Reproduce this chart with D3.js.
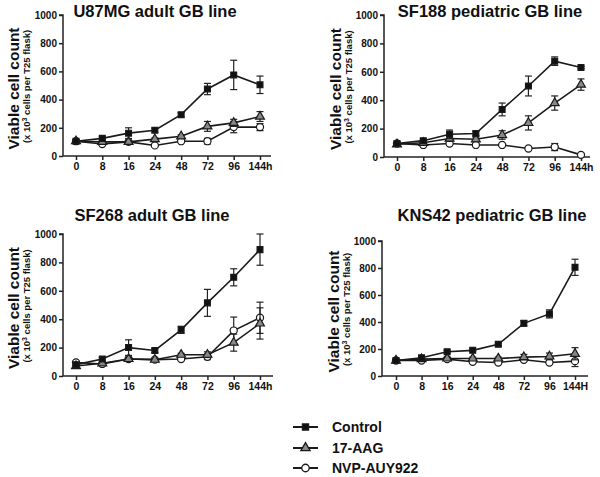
<!DOCTYPE html>
<html><head><meta charset="utf-8">
<script src="https://cdn.jsdelivr.net/npm/d3@7"></script>
<style>body{margin:0;background:#fff}svg{display:block}text{font-family:"Liberation Sans",Arial,sans-serif;font-weight:bold}</style>
</head><body>
<script>
const timeLabels = ["0","8","16","24","48","72","96","144h"];
const timeLabelsKNS = ["0","8","16","24","48","72","96","144H"];
const yTicks = [0,200,400,600,800,1000];
const seriesNames = ["Control","17-AAG","NVP-AUY922"];

// U87MG
const u87Control = [105,125,162,183,293,475,575,505];
const u87ControlErr = [5,10,38,15,15,40,104,62];
const u87AAG = [105,100,100,120,140,210,235,280];
const u87AAGErr = [5,5,5,8,10,35,25,35];
const u87NVP = [105,85,100,75,105,105,205,205];
const u87NVPErr = [5,5,5,5,5,20,40,25];
// SF188
const sf188Control = [95,115,160,165,335,500,675,630];
const sf188ControlErr = [5,10,30,15,45,70,30,8];
const sf188AAG = [90,100,130,125,155,240,380,510];
const sf188AAGErr = [5,5,20,15,30,50,50,40];
const sf188NVP = [95,85,95,85,85,60,70,15];
const sf188NVPErr = [5,5,10,5,5,5,25,5];
// SF268
const sf268Control = [80,120,200,180,325,515,695,890];
const sf268ControlErr = [5,10,55,15,25,95,60,110];
const sf268AAG = [70,90,120,115,150,150,235,370];
const sf268AAGErr = [5,5,10,5,10,20,60,110];
const sf268NVP = [95,85,120,115,120,135,320,410];
const sf268NVPErr = [5,5,10,5,10,20,95,110];
// KNS42
const knsControl = [115,135,180,190,235,390,460,805];
const knsControlErr = [5,10,10,8,10,20,30,60];
const knsAAG = [115,125,130,130,130,140,145,165];
const knsAAGErr = [5,5,10,10,10,20,25,45];
const knsNVP = [115,115,125,105,100,120,100,110];
const knsNVPErr = [5,5,5,10,10,10,10,40];

const panels = [
  {title:"U87MG adult GB line", labels:timeLabels, s:[[u87Control,u87ControlErr],[u87AAG,u87AAGErr],[u87NVP,u87NVPErr]],
   ax:63, x0:76, x1:260, xEnd:271, yTop:15, yBot:156, tx:155, ty:17, lx:13, lx2:27},
  {title:"SF188 pediatric GB line", labels:timeLabels, s:[[sf188Control,sf188ControlErr],[sf188AAG,sf188AAGErr],[sf188NVP,sf188NVPErr]],
   ax:384, x0:397, x1:581, xEnd:590, yTop:15, yBot:157, tx:490, ty:17, lx:335, lx2:349},
  {title:"SF268 adult GB line", labels:timeLabels, s:[[sf268Control,sf268ControlErr],[sf268AAG,sf268AAGErr],[sf268NVP,sf268NVPErr]],
   ax:63, x0:76, x1:260, xEnd:273, yTop:234, yBot:376, tx:152, ty:221, lx:13, lx2:27},
  {title:"KNS42 pediatric GB line", labels:timeLabelsKNS, s:[[knsControl,knsControlErr],[knsAAG,knsAAGErr],[knsNVP,knsNVPErr]],
   ax:382, x0:396, x1:575, xEnd:588, yTop:241, yBot:376, tx:492, ty:221, lx:333, lx2:347}
];

const svg = d3.select("body").append("svg").attr("width",600).attr("height",477);

const sym = [d3.symbolSquare, d3.symbolTriangle, d3.symbolCircle];
const fills = ["#111","#888","#fff"];
const sizes = [34, 34, 40];

panels.forEach(p=>{
  const g = svg.append("g");
  const x = d3.scalePoint().domain(p.labels).range([p.x0,p.x1]);
  const y = d3.scaleLinear().domain([0,1000]).range([p.yBot,p.yTop]);
  const ya = g.append("g").attr("transform",`translate(${p.ax},0)`)
    .call(d3.axisLeft(y).tickValues(yTicks).tickFormat(d3.format("d")).tickSize(4).tickPadding(2));
  ya.selectAll("text").attr("font-size",10).attr("fill","#111").style("font-family","Liberation Sans, Arial").style("font-weight","bold");
  ya.select(".domain").attr("d",`M-4,${p.yTop}H0V${p.yBot}`).attr("stroke","#222").attr("stroke-width",1.5);
  ya.selectAll(".tick line").attr("stroke","#222").attr("stroke-width",1.5);
  const xa = g.append("g").attr("transform",`translate(0,${p.yBot})`)
    .call(d3.axisBottom(x).tickSize(4).tickPadding(3));
  xa.selectAll("text").attr("font-size",10.5).attr("fill","#111").style("font-family","Liberation Sans, Arial").style("font-weight","bold");
  xa.select(".domain").attr("d",`M${p.ax},0H${p.xEnd}`).attr("stroke","#222").attr("stroke-width",1.5);
  xa.selectAll(".tick line").attr("stroke","#222").attr("stroke-width",1.5);

  g.append("text").attr("x",p.tx).attr("y",p.ty).attr("text-anchor","middle").attr("font-size",16.5).attr("fill","#111").text(p.title);
  const cy = (p.yTop+p.yBot)/2 + 3;
  g.append("text").attr("transform",`translate(${p.lx+6},${cy}) rotate(-90)`).attr("text-anchor","middle").attr("font-size",15.5).attr("fill","#111").text("Viable cell count");
  const t2 = g.append("text").attr("transform",`translate(${p.lx2+3},${cy-2}) rotate(-90)`).attr("text-anchor","middle").attr("font-size",9.5).attr("fill","#111");
  t2.append("tspan").text("(x 10");
  t2.append("tspan").attr("dy",-3.5).attr("font-size",7).text("3");
  t2.append("tspan").attr("dy",3.5).text(" cells per T25 flask)");

  // draw series in order NVP, AAG, Control
  [2,1,0].forEach(si=>{
    const [vals,errs] = p.s[si];
    const pts = vals.map((v,i)=>({x:x(p.labels[i]), v, e:errs[i]}));
    const eg = g.append("g").attr("stroke","#222").attr("stroke-width",1.2);
    pts.forEach(d=>{
      eg.append("line").attr("x1",d.x).attr("x2",d.x).attr("y1",y(d.v-d.e)).attr("y2",y(d.v+d.e));
      eg.append("line").attr("x1",d.x-3.5).attr("x2",d.x+3.5).attr("y1",y(d.v+d.e)).attr("y2",y(d.v+d.e));
      eg.append("line").attr("x1",d.x-3.5).attr("x2",d.x+3.5).attr("y1",y(d.v-d.e)).attr("y2",y(d.v-d.e));
    });
    g.append("path").datum(pts).attr("fill","none").attr("stroke","#1a1a1a").attr("stroke-width",1.6)
      .attr("d",d3.line().x(d=>d.x).y(d=>y(d.v)));
    g.selectAll(null).data(pts).enter().append("path")
      .attr("transform",d=>`translate(${d.x},${y(d.v)})`)
      .attr("d",d3.symbol().type(sym[si]).size(sizes[si]))
      .attr("fill",fills[si]).attr("stroke","#1a1a1a").attr("stroke-width",1.2);
  });
});

// legend
const lg = svg.append("g");
seriesNames.forEach((n,i)=>{
  const yy = [427,448,468][i];
  lg.append("line").attr("x1",293).attr("x2",318).attr("y1",yy).attr("y2",yy).attr("stroke","#1a1a1a").attr("stroke-width",2);
  lg.append("path").attr("transform",`translate(305.5,${yy})`).attr("d",d3.symbol().type(sym[i]).size(sizes[i]*1.1))
    .attr("fill",fills[i]).attr("stroke","#1a1a1a").attr("stroke-width",1.3);
  lg.append("text").attr("x",332).attr("y",yy+5).attr("font-size",14).attr("fill","#111").text(n);
});
</script>
</body></html>
